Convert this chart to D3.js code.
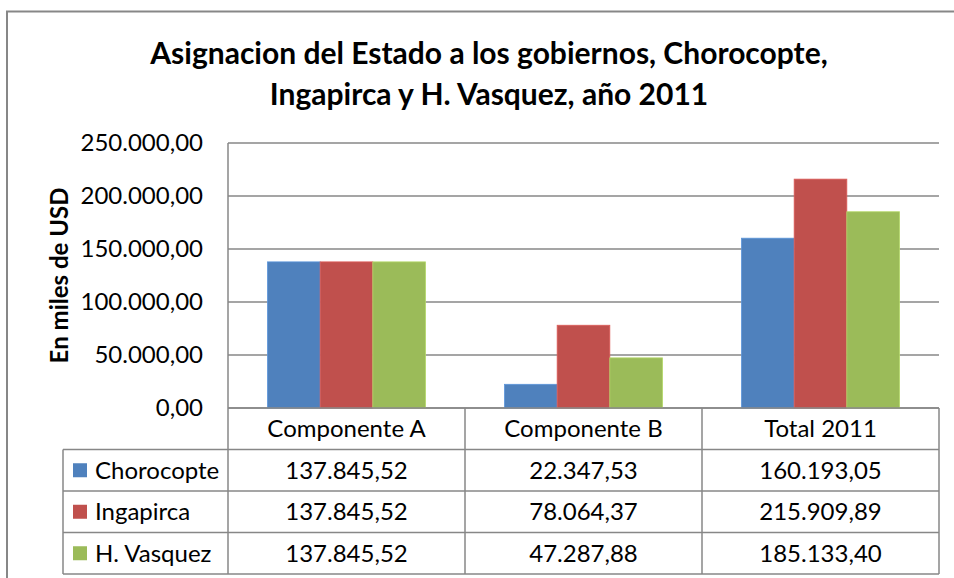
<!DOCTYPE html>
<html>
<head>
<meta charset="utf-8">
<script src="https://cdn.jsdelivr.net/npm/d3@7"></script>
<style>
  body { margin: 0; background: #fff; }
  svg text { font-family: Lato, "Open Sans", sans-serif; fill: #000; }
</style>
</head>
<body>
<div id="canvas"></div>
<script>
// data
var categories = ['Componente A', 'Componente B', 'Total 2011'];
var seriesNames = ['Chorocopte', 'Ingapirca', 'H. Vasquez'];
var chorocopte = [137845.52, 22347.53, 160193.05];
var ingapirca = [137845.52, 78064.37, 215909.89];
var vasquez = [137845.52, 47287.88, 185133.40];
var yTicks = [0, 50000, 100000, 150000, 200000, 250000];
var colors = ['#4F81BD', '#C0504D', '#9BBB59'];

var series = [chorocopte, ingapirca, vasquez];

var W = 954, H = 578;
var m = {t: 143, l: 228, r: 15};
var plotW = 939 - m.l, plotH = 408 - m.t;
var rowH = 41.5, legL = 63;
var fs = '24px';

var svg = d3.select('#canvas').append('svg')
    .attr('width', W).attr('height', H);

// outer chart border (runs off the picture on the right and bottom)
svg.append('rect')
    .attr('x', 7).attr('y', 11.5)
    .attr('width', 960).attr('height', 600)
    .style('fill', '#fff').style('stroke', '#878787').style('stroke-width', 2);

// title
var title = svg.append('text')
    .attr('text-anchor', 'middle')
    .style('font-weight', 'bold').style('font-size', '30px');
title.append('tspan').attr('x', 489).attr('y', 64)
    .text('Asignacion del Estado a los gobiernos, Chorocopte,');
title.append('tspan').attr('x', 489).attr('y', 105)
    .text('Ingapirca y H. Vasquez, año 2011');

var plot = svg.append('g').attr('transform', 'translate(' + m.l + ',' + m.t + ')');

// gap width 150% like Excel: outer padding 0.75 of a bar on each side
var x0 = d3.scaleBand().domain(categories).range([0, plotW]).paddingInner(0).paddingOuter(0);
var x1 = d3.scaleBand().domain(seriesNames).range([0, x0.bandwidth()])
    .paddingInner(0).paddingOuter(0.75);
var y = d3.scaleLinear().domain([0, 250000]).range([plotH, 0]);

var fmt = d3.formatLocale({decimal: ',', thousands: '.', grouping: [3], currency: ['', '']}).format(',.2f');

// gridlines
plot.selectAll('.grid').data(yTicks).enter().append('line')
    .attr('x1', 0).attr('x2', plotW)
    .attr('y1', function(d){ return y(d); }).attr('y2', function(d){ return y(d); })
    .style('stroke', '#878787').style('stroke-width', 1.5);

// y axis labels
plot.selectAll('.ylab').data(yTicks).enter().append('text')
    .attr('x', -25).attr('y', function(d){ return y(d); })
    .attr('dy', '0.35em')
    .attr('text-anchor', 'end')
    .style('font-size', fs)
    .text(function(d){ return fmt(d); });

// y axis title
svg.append('text')
    .attr('transform', 'translate(60,' + (m.t + plotH / 2) + ') rotate(-90)')
    .attr('text-anchor', 'middle').attr('dy', '0.35em')
    .style('font-weight', 'bold').style('font-size', fs)
    .text('En miles de USD');

// bars
var groups = plot.selectAll('.cat').data(categories).enter().append('g')
    .attr('transform', function(d){ return 'translate(' + x0(d) + ',0)'; });
groups.selectAll('rect').data(function(c, i){
        return series.map(function(s, j){ return {name: seriesNames[j], v: s[i], k: j}; });
    }).enter().append('rect')
    .attr('x', function(d){ return x1(d.name); })
    .attr('width', x1.bandwidth())
    .attr('y', function(d){ return y(d.v); })
    .attr('height', function(d){ return plotH - y(d.v); })
    .style('fill', function(d){ return colors[d.k]; })
    .style('stroke', function(d){ return d3.color(colors[d.k]).brighter(0.4); })
    .style('stroke-width', 0.8);

// axis line (left)
plot.append('line').attr('x1', 0).attr('x2', 0).attr('y1', 0).attr('y2', plotH)
    .style('stroke', '#878787').style('stroke-width', 1.5);

// data table
var tbl = svg.append('g').attr('transform', 'translate(0,' + (m.t + plotH) + ')');
var lineStyle = function(sel){ sel.style('stroke', '#878787').style('stroke-width', 1.5); };

// horizontal lines
[0, 1, 2, 3, 4].forEach(function(r){
    tbl.append('line')
        .attr('x1', r === 0 ? m.l : legL).attr('x2', m.l + plotW)
        .attr('y1', r * rowH).attr('y2', r * rowH).call(lineStyle);
});
// vertical lines
tbl.append('line').attr('x1', legL).attr('x2', legL).attr('y1', rowH).attr('y2', 4 * rowH).call(lineStyle);
categories.concat(['end']).forEach(function(c, i){
    var xx = m.l + i * x0.bandwidth();
    tbl.append('line').attr('x1', xx).attr('x2', xx).attr('y1', 0).attr('y2', 4 * rowH).call(lineStyle);
});

// header text
tbl.selectAll('.hdr').data(categories).enter().append('text')
    .attr('x', function(d){ return m.l + x0(d) + x0.bandwidth() / 2; })
    .attr('y', rowH / 2).attr('dy', '0.35em')
    .attr('text-anchor', 'middle').style('font-size', fs)
    .text(function(d){ return d; });

// rows
seriesNames.forEach(function(name, j){
    var ry = (j + 1) * rowH;
    tbl.append('rect').attr('x', 73).attr('y', ry + rowH / 2 - 7)
        .attr('width', 14).attr('height', 14).style('fill', colors[j]);
    tbl.append('text').attr('x', 95).attr('y', ry + rowH / 2).attr('dy', '0.35em')
        .style('font-size', fs).text(name);
    tbl.selectAll('.val' + j).data(series[j]).enter().append('text')
        .attr('x', function(d, i){ return m.l + x0(categories[i]) + x0.bandwidth() / 2; })
        .attr('y', ry + rowH / 2).attr('dy', '0.35em')
        .attr('text-anchor', 'middle').style('font-size', fs)
        .text(function(d){ return fmt(d); });
});
</script>
</body>
</html>
